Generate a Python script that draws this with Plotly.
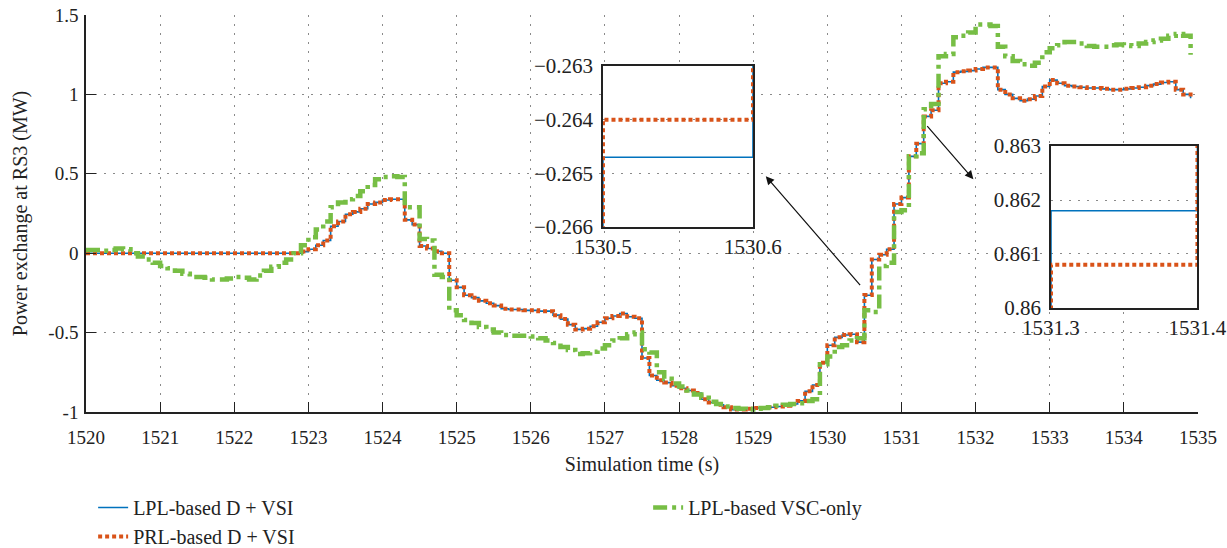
import numpy as np
import plotly.graph_objects as go

# Sampling: one value every 0.1 s starting at 1520 s
t_start = 1520.0
t_step = 0.1

# Power exchange at RS3 (MW), LPL-based D + VSI
p_lpl_dvsi = [
    0, 0, 0, 0, 0, 0, 0, 0, 0, 0,
    0, 0, 0, 0, 0, 0, 0, 0, 0, 0,
    0, 0, 0, 0, 0, 0, 0, 0, 0, 0.01,
    0.025, 0.05, 0.08, 0.17, 0.20, 0.245, 0.26, 0.28, 0.31, 0.32,
    0.335, 0.34, 0.34, 0.21, 0.18, 0.045, 0.03, 0.012, 0.0, -0.17,
    -0.215, -0.265, -0.28, -0.30, -0.315, -0.33, -0.35, -0.355, -0.355, -0.36,
    -0.36, -0.365, -0.365, -0.39, -0.415, -0.45, -0.48, -0.475, -0.46, -0.435,
    -0.41, -0.395, -0.38, -0.40, -0.41, -0.66, -0.77, -0.80, -0.815, -0.835,
    -0.85, -0.865, -0.88, -0.92, -0.94, -0.955, -0.97, -0.985, -0.985, -0.98,
    -0.975, -0.975, -0.97, -0.965, -0.96, -0.95, -0.93, -0.87, -0.83, -0.69,
    -0.58, -0.53, -0.515, -0.51, -0.56, -0.2647, -0.04, -0.01, 0.025, 0.31,
    0.35, 0.61, 0.69, 0.8618, 0.90, 1.07, 1.08, 1.14, 1.145, 1.15,
    1.16, 1.17, 1.17, 1.03, 1.0, 0.975, 0.96, 0.97, 0.99, 1.05,
    1.09, 1.07, 1.055, 1.05, 1.045, 1.04, 1.04, 1.035, 1.03, 1.03,
    1.035, 1.04, 1.045, 1.055, 1.065, 1.075, 1.08, 1.03, 1.0, 0.975,
]

# Power exchange at RS3 (MW), PRL-based D + VSI
p_prl_dvsi = [
    0, 0, 0, 0, 0, 0, 0, 0, 0, 0,
    0, 0, 0, 0, 0, 0, 0, 0, 0, 0,
    0, 0, 0, 0, 0, 0, 0, 0, 0, 0.01,
    0.025, 0.05, 0.08, 0.17, 0.20, 0.245, 0.26, 0.28, 0.31, 0.32,
    0.335, 0.34, 0.34, 0.21, 0.18, 0.045, 0.03, 0.012, 0.0, -0.17,
    -0.215, -0.265, -0.28, -0.30, -0.315, -0.33, -0.35, -0.355, -0.355, -0.36,
    -0.36, -0.365, -0.365, -0.39, -0.415, -0.45, -0.48, -0.475, -0.46, -0.435,
    -0.41, -0.395, -0.38, -0.40, -0.41, -0.66, -0.77, -0.80, -0.815, -0.835,
    -0.85, -0.865, -0.88, -0.92, -0.94, -0.955, -0.97, -0.985, -0.985, -0.98,
    -0.975, -0.975, -0.97, -0.965, -0.96, -0.95, -0.93, -0.87, -0.83, -0.69,
    -0.58, -0.53, -0.515, -0.51, -0.56, -0.2640, -0.04, -0.01, 0.025, 0.31,
    0.35, 0.61, 0.69, 0.8608, 0.90, 1.07, 1.08, 1.14, 1.145, 1.15,
    1.16, 1.17, 1.17, 1.03, 1.0, 0.975, 0.96, 0.97, 0.99, 1.05,
    1.09, 1.07, 1.055, 1.05, 1.045, 1.04, 1.04, 1.035, 1.03, 1.03,
    1.035, 1.04, 1.045, 1.055, 1.065, 1.075, 1.08, 1.03, 1.0, 0.975,
]

# Power exchange at RS3 (MW), LPL-based VSC-only
p_lpl_vsc = [
    0.02, 0.02, 0.015, 0.02, 0.03, 0.025, 0.0, -0.02, -0.04, -0.06,
    -0.08, -0.095, -0.11, -0.13, -0.15, -0.15, -0.155, -0.165, -0.165, -0.16,
    -0.15, -0.155, -0.165, -0.14, -0.11, -0.085, -0.06, -0.04, 0.0, 0.05,
    0.10, 0.15, 0.20, 0.29, 0.32, 0.34, 0.36, 0.39, 0.43, 0.465,
    0.48, 0.485, 0.48, 0.29, 0.29, 0.09, 0.08, -0.135, -0.15, -0.36,
    -0.39, -0.42, -0.44, -0.465, -0.48, -0.50, -0.515, -0.52, -0.52, -0.52,
    -0.525, -0.535, -0.55, -0.565, -0.59, -0.61, -0.635, -0.63, -0.62, -0.60,
    -0.58, -0.55, -0.535, -0.51, -0.50, -0.605, -0.625, -0.75, -0.79, -0.82,
    -0.84, -0.865, -0.89, -0.91, -0.935, -0.95, -0.965, -0.975, -0.98, -0.985,
    -0.98, -0.975, -0.97, -0.96, -0.955, -0.95, -0.945, -0.93, -0.92, -0.70,
    -0.65, -0.59, -0.58, -0.55, -0.535, -0.36, -0.37, -0.08, -0.06, 0.26,
    0.27, 0.61, 0.63, 0.907, 0.94, 1.24, 1.255, 1.36, 1.37, 1.39,
    1.44, 1.44, 1.43, 1.30, 1.24, 1.21, 1.19, 1.18, 1.20, 1.265,
    1.29, 1.31, 1.33, 1.33, 1.32, 1.305, 1.30, 1.30, 1.31, 1.315,
    1.31, 1.305, 1.32, 1.33, 1.34, 1.35, 1.37, 1.38, 1.37, 1.25,
]

time_s = np.round(t_start + t_step * np.arange(len(p_lpl_dvsi)), 1)

series_names = ["LPL-based D + VSI", "PRL-based D + VSI", "LPL-based VSC-only"]

x_range = [1520, 1535]
y_range = [-1, 1.5]
x_ticks = list(range(1520, 1536))
y_ticks = [-1, -0.5, 0, 0.5, 1, 1.5]
y_ticktext = ["-1", "-0.5", "0", "0.5", "1", "1.5"]

inset1_x = [1530.5, 1530.6]
inset1_y = [-0.266, -0.263]
inset1_yticks = [-0.266, -0.265, -0.264, -0.263]
inset2_x = [1531.3, 1531.4]
inset2_y = [0.86, 0.863]
inset2_yticks = [0.86, 0.861, 0.862, 0.863]

BLUE = "#0072BD"
ORANGE = "#D95319"
GREEN = "#77BE45"
INK = "#222222"
FONT = "Liberation Serif"

blue_line = dict(color=BLUE, width=1.6)
orange_line = dict(color=ORANGE, width=4, dash="4px,3px")
green_line = dict(color=GREEN, width=4.5, dash="14px,5px,4px,5px")

fig = go.Figure()

fig.add_trace(go.Scatter(x=time_s, y=p_lpl_dvsi, name=series_names[0], mode="lines",
                         line=dict(shape="hv", **blue_line), legendrank=1))
fig.add_trace(go.Scatter(x=time_s, y=p_prl_dvsi, name=series_names[1], mode="lines",
                         line=dict(shape="hv", **orange_line), legendrank=3))
fig.add_trace(go.Scatter(x=time_s, y=p_lpl_vsc, name=series_names[2], mode="lines",
                         line=dict(shape="hv", **green_line), legendrank=2))

# zoomed views of the two D + VSI curves
for xa, ya in (("x2", "y2"), ("x3", "y3")):
    fig.add_trace(go.Scatter(x=time_s, y=p_lpl_dvsi, mode="lines", showlegend=False,
                             line=dict(shape="hv", **blue_line), xaxis=xa, yaxis=ya))
    fig.add_trace(go.Scatter(x=time_s, y=p_prl_dvsi, mode="lines", showlegend=False,
                             line=dict(shape="hv", **orange_line), xaxis=xa, yaxis=ya))

grid = dict(showgrid=True, gridcolor="#8a8a8a", gridwidth=1, griddash="2px,7px")
tickfont = dict(family=FONT, size=19, color=INK)
inset_font = dict(family=FONT, size=21, color=INK)

inset1_dom_x = [0.4649, 0.5998]
inset1_dom_y = [0.466, 0.8715]
inset2_dom_x = [0.8678, 0.9995]
inset2_dom_y = [0.262, 0.670]

inset_box = dict(showline=True, mirror=True, linecolor=INK, linewidth=1.5,
                 zeroline=False, ticks="", automargin=False)

fig.update_layout(
    width=1227, height=548,
    margin=dict(l=86, r=29, t=15, b=136),
    paper_bgcolor="white", plot_bgcolor="white",
    font=dict(family=FONT, size=19, color=INK),
    xaxis=dict(range=x_range, tickvals=x_ticks, ticks="inside", ticklen=10,
               tickcolor=INK, showline=True, linecolor=INK, linewidth=1.5,
               zeroline=False, tickfont=tickfont, ticklabelstandoff=7,
               automargin="bottom",
               title=dict(text="Simulation time (s)", font=dict(family=FONT, size=20), standoff=10),
               **grid),
    yaxis=dict(range=y_range, tickvals=y_ticks, ticktext=y_ticktext, ticks="inside",
               ticklen=10, tickcolor=INK, showline=True, linecolor=INK,
               linewidth=1.5, zeroline=False, tickfont=tickfont, ticklabelstandoff=2,
               automargin="left",
               title=dict(text="Power exchange at RS3 (MW)", font=dict(family=FONT, size=20), standoff=15),
               **grid),
    xaxis2=dict(domain=inset1_dom_x, anchor="y2", range=inset1_x, tickvals=inset1_x,
                ticktext=[f"{v:.1f}" for v in inset1_x], showgrid=False,
                tickfont=inset_font, **inset_box),
    yaxis2=dict(domain=inset1_dom_y, anchor="x2", range=inset1_y, tickvals=inset1_yticks,
                tickformat=".3f", tickfont=inset_font, ticklabelstandoff=4,
                **inset_box, **grid),
    xaxis3=dict(domain=inset2_dom_x, anchor="y3", range=inset2_x, tickvals=inset2_x,
                ticktext=[f"{v:.1f}" for v in inset2_x], showgrid=False,
                tickfont=inset_font, **inset_box),
    yaxis3=dict(domain=inset2_dom_y, anchor="x3", range=inset2_y, tickvals=inset2_yticks,
                ticktext=["0.86", "0.861", "0.862", "0.863"],
                tickfont=inset_font, ticklabelstandoff=4, **inset_box, **grid),
    legend=dict(orientation="h", xref="container", yref="container",
                x=0.0759, y=0.1095, xanchor="left", yanchor="top",
                font=dict(family=FONT, size=20, color=INK),
                entrywidth=510, entrywidthmode="pixels", tracegroupgap=0,
                bgcolor="rgba(0,0,0,0)"),
    showlegend=True,
)


def dom_to_data(frac, rng):
    return rng[0] + frac * (rng[1] - rng[0])


# white backing behind each inset so the main grid does not show through
for dx, dy in ((inset1_dom_x, inset1_dom_y), (inset2_dom_x, inset2_dom_y)):
    fig.add_shape(type="rect", xref="x", yref="y",
                  x0=dom_to_data(dx[0], x_range), x1=dom_to_data(dx[1], x_range),
                  y0=dom_to_data(dy[0], y_range), y1=dom_to_data(dy[1], y_range),
                  fillcolor="white", line=dict(width=0), layer="between")

# arrows linking the curve to each inset
arrow = dict(showarrow=True, arrowhead=2, arrowsize=1.4, arrowwidth=1.2,
             arrowcolor="#111", text="", xref="x", yref="y", axref="x", ayref="y")
fig.add_annotation(x=1529.17, y=0.485, ax=1530.46, ay=-0.21, **arrow)
fig.add_annotation(x=1531.97, y=0.466, ax=1531.33, ay=0.81, **arrow)

fig.write_html("out.html")
